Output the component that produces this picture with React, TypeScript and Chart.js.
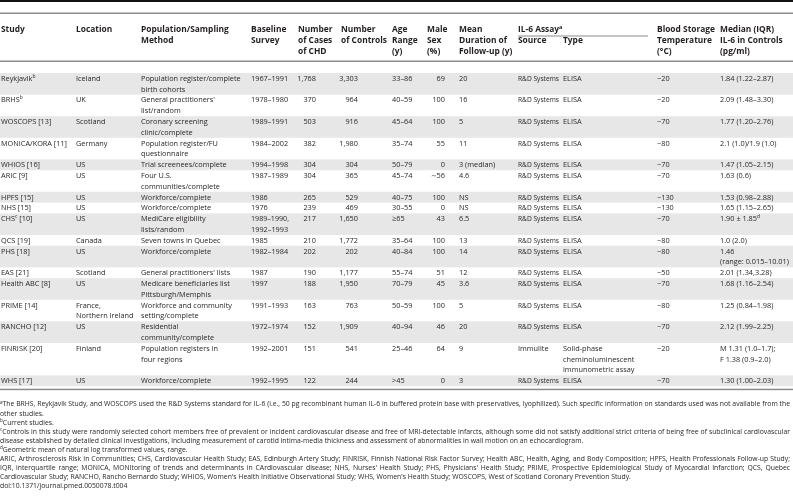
import React, { useEffect, useRef } from "react";
import { Chart, registerables } from "chart.js";

Chart.register(...registerables);

// ---------- DATA ----------
const studies = ["Reykjavik^b", "BRHS^b", "WOSCOPS [13]", "MONICA/KORA [11]", "WHIOS [16]", "ARIC [9]", "HPFS [15]", "NHS [15]", "CHS^c [10]", "QCS [19]", "PHS [18]", "EAS [21]", "Health ABC [8]", "PRIME [14]", "RANCHO [12]", "FINRISK [20]", "WHS [17]"];
const locations = ["Iceland", "UK", "Scotland", "Germany", "US", "US", "US", "US", "US", "Canada", "US", "Scotland", "US", "France,\nNorthern Ireland", "US", "Finland", "US"];
const populations = ["Population register/complete\nbirth cohorts", "General practitioners'\nlist/random", "Coronary screening\nclinic/complete", "Population register/FU\nquestionnaire", "Trial screenees/complete", "Four U.S.\ncommunities/complete", "Workforce/complete", "Workforce/complete", "MediCare eligibility\nlists/random", "Seven towns in Quebec", "Workforce/complete", "General practitioners' lists", "Medicare beneficiaries list\nPittsburgh/Memphis", "Workforce and community\nsetting/complete", "Residential\ncommunity/complete", "Population registers in\nfour regions", "Workforce/complete"];
const baselines = ["1967–1991", "1978–1980", "1989–1991", "1984–2002", "1994–1998", "1987–1989", "1986", "1976", "1989–1990,\n1992–1993", "1985", "1982–1984", "1987", "1997", "1991–1993", "1972–1974", "1992–2001", "1992–1995"];
const casesCHD = [1768, 370, 503, 382, 304, 304, 265, 239, 217, 210, 202, 190, 188, 163, 152, 151, 122];
const controls = [3303, 964, 916, 1980, 304, 365, 529, 469, 1650, 1772, 202, 1177, 1950, 763, 1909, 541, 244];
const ageRanges = ["33–86", "40–59", "45–64", "35–74", "50–79", "45–74", "40–75", "30–55", "≥65", "35–64", "40–84", "55–74", "70–79", "50–59", "40–94", "25–46", ">45"];
const maleSex = ["69", "100", "100", "55", "0", "∼56", "100", "0", "43", "100", "100", "51", "45", "100", "46", "64", "0"];
const followUps = ["20", "16", "5", "11", "3 (median)", "4.6", "NS", "NS", "6.5", "13", "14", "12", "3.6", "5", "20", "9", "3"];
const assaySources = ["R&D Systems", "R&D Systems", "R&D Systems", "R&D Systems", "R&D Systems", "R&D Systems", "R&D Systems", "R&D Systems", "R&D Systems", "R&D Systems", "R&D Systems", "R&D Systems", "R&D Systems", "R&D Systems", "R&D Systems", "Immulite", "R&D Systems"];
const assayTypes = ["ELISA", "ELISA", "ELISA", "ELISA", "ELISA", "ELISA", "ELISA", "ELISA", "ELISA", "ELISA", "ELISA", "ELISA", "ELISA", "ELISA", "ELISA", "Solid-phase\ncheminoluminescent\nimmunometric assay", "ELISA"];
const storageTemps = ["−20", "−20", "−70", "−80", "−70", "−70", "−130", "−130", "−70", "−80", "−80", "−50", "−70", "−80", "−70", "−20", "−70"];
const medians = ["1.84 (1.22–2.87)", "2.09 (1.48–3.30)", "1.77 (1.20–2.76)", "2.1 (1.0)/1.9 (1.0)", "1.47 (1.05–2.15)", "1.63 (0.6)", "1.53 (0.98–2.88)", "1.65 (1.15–2.65)", "1.90 ± 1.85^d", "1.0 (2.0)", "1.46\n(range: 0.015–10.01)", "2.01 (1.34,3.28)", "1.68 (1.16–2.54)", "1.25 (0.84–1.98)", "2.12 (1.99–2.25)", "M 1.31 (1.0–1.7);\nF 1.38 (0.9–2.0)", "1.30 (1.00–2.03)"];

const headerStudy = ["Study"];
const headerLocation = ["Location"];
const headerPopulation = ["Population/Sampling", "Method"];
const headerBaseline = ["Baseline", "Survey"];
const headerCases = ["Number", "of Cases", "of CHD"];
const headerControls = ["Number", "of Controls"];
const headerAge = ["Age", "Range", "(y)"];
const headerMale = ["Male", "Sex", "(%)"];
const headerFollow = ["Mean", "Duration of", "Follow-up (y)"];
const headerAssay = "IL-6 Assay^a";
const headerSource = ["", "Source"];
const headerType = ["", "Type"];
const headerStorage = ["Blood Storage", "Temperature", "(°C)"];
const headerMedian = ["Median (IQR)", "IL-6 in Controls", "(pg/ml)"];

const footnoteLines = [
  "^aThe BRHS, Reykjavik Study, and WOSCOPS used the R&D Systems standard for IL-6 (i.e., 50 pg recombinant human IL-6 in buffered protein base with preservatives, lyophilized). Such specific information on standards used was not available from the",
  "other studies.",
  "^bCurrent studies.",
  "^cControls in this study were randomly selected cohort members free of prevalent or incident cardiovascular disease and free of MRI-detectable infarcts, although some did not satisfy additional strict criteria of being free of subclinical cardiovascular",
  "disease established by detailed clinical investigations, including measurement of carotid intima-media thickness and assessment of abnormalities in wall motion on an echocardiogram.",
  "^dGeometric mean of natural log transformed values, range.",
  "ARIC, Arthrosclerosis Risk In Communities; CHS, Cardiovascular Health Study; EAS, Edinburgh Artery Study; FINRISK, Finnish National Risk Factor Survey; Health ABC, Health, Aging, and Body Composition; HPFS, Health Professionals Follow-up Study;",
  "IQR, interquartile range; MONICA, MONItoring of trends and determinants in CArdiovascular disease; NHS, Nurses' Health Study; PHS, Physicians' Health Study; PRIME, Prospective Epidemiological Study of Myocardial Infarction; QCS, Quebec",
  "Cardiovascular Study; RANCHO, Rancho Bernardo Study; WHIOS, Women's Health Initiative Observational Study; WHS, Women's Health Study; WOSCOPS, West of Scotland Coronary Prevention Study.",
  "doi:10.1371/journal.pmed.0050078.t004",
];
const footnoteJustified = [true, false, false, true, false, false, true, true, false, false];

// ---------- LAYOUT / STYLE ----------
const W = 793;
const H = 498;
const FONT = '"Open Sans", "Noto Sans", sans-serif';
const TEXT = "#231f20";
const RULE = "#8c8c8c";
const BAND = "#e7e7e7";

type Col = { x: number; align: "left" | "right"; header: string[]; cells: string[]; maxW: number };

const fmt = (n: number) => n.toLocaleString("en-US");

const columns: Col[] = [
  { x: 1, align: "left", header: headerStudy, cells: studies, maxW: 66 },
  { x: 76, align: "left", header: headerLocation, cells: locations, maxW: 63 },
  { x: 141, align: "left", header: headerPopulation, cells: populations, maxW: 106 },
  { x: 251, align: "left", header: headerBaseline, cells: baselines, maxW: 38 },
  { x: 316, align: "right", header: headerCases, cells: casesCHD.map(fmt), maxW: 30 },
  { x: 358, align: "right", header: headerControls, cells: controls.map(fmt), maxW: 30 },
  { x: 392, align: "left", header: headerAge, cells: ageRanges, maxW: 30 },
  { x: 445, align: "right", header: headerMale, cells: maleSex, maxW: 20 },
  { x: 459, align: "left", header: headerFollow, cells: followUps, maxW: 56 },
  { x: 518, align: "left", header: headerSource, cells: assaySources, maxW: 41 },
  { x: 563, align: "left", header: headerType, cells: assayTypes, maxW: 90 },
  { x: 657, align: "left", header: headerStorage, cells: storageTemps, maxW: 60 },
  { x: 720, align: "left", header: headerMedian, cells: medians, maxW: 73 },
];
const headerLeft: Record<number, number> = { 4: 298, 5: 341, 7: 427 };

type Seg = { t: string; sup: boolean };
function parse(text: string): Seg[] {
  const out: Seg[] = [];
  const parts = text.split(/(\^.)/);
  for (const p of parts) {
    if (!p) continue;
    if (p.length === 2 && p[0] === "^") out.push({ t: p[1], sup: true });
    else out.push({ t: p, sup: false });
  }
  return out;
}
function font(size: number, bold: boolean) {
  return `${bold ? "bold " : ""}${size}px ${FONT}`;
}
function measureRich(ctx: CanvasRenderingContext2D, text: string, size: number, bold: boolean) {
  let w = 0;
  for (const s of parse(text)) {
    ctx.font = font(s.sup ? size * 0.68 : size, bold);
    w += ctx.measureText(s.t).width;
  }
  return w;
}
function drawRich(ctx: CanvasRenderingContext2D, text: string, x: number, y: number, size: number, bold: boolean, align: "left" | "right" = "left", maxW = Infinity) {
  const total = measureRich(ctx, text, size, bold);
  const sx = total > maxW ? maxW / total : 1;
  const w = total * sx;
  const left = align === "right" ? x - w : x;
  ctx.save();
  ctx.translate(left, 0);
  ctx.scale(sx, 1);
  ctx.textAlign = "left";
  ctx.textBaseline = "middle";
  let cx = 0;
  for (const s of parse(text)) {
    const sz = s.sup ? size * 0.68 : size;
    ctx.font = font(sz, bold);
    ctx.fillText(s.t, cx, s.sup ? y - size * 0.32 : y);
    cx += ctx.measureText(s.t).width;
  }
  ctx.restore();
}
function drawJustified(ctx: CanvasRenderingContext2D, text: string, x: number, y: number, width: number, size: number) {
  const words = text.split(" ");
  const widths = words.map((w) => measureRich(ctx, w, size, false));
  const sum = widths.reduce((a, b) => a + b, 0);
  ctx.font = font(size, false);
  const natSpace = ctx.measureText(" ").width;
  let gap = (width - sum) / (words.length - 1);
  let scale = 1;
  if (gap < natSpace * 0.6) {
    gap = natSpace * 0.6;
    scale = width / (sum + gap * (words.length - 1));
  }
  ctx.save();
  ctx.translate(x, 0);
  ctx.scale(scale, 1);
  let cx = 0;
  words.forEach((w, i) => {
    drawRich(ctx, w, cx, y, size, false);
    cx += widths[i] + gap;
  });
  ctx.restore();
}
function fitSize(ctx: CanvasRenderingContext2D, text: string, target: number, bold: boolean) {
  ctx.font = font(10, bold);
  return (10 * target) / ctx.measureText(text).width;
}

const rowLines = studies.map((_, r) => Math.max(...columns.map((c) => c.cells[r].split("\n").length)));

const tablePlugin = {
  id: "tableDraw",
  beforeDraw(chart: any) {
    const { ctx } = chart;
    ctx.save();
    ctx.fillStyle = "#ffffff";
    ctx.fillRect(0, 0, chart.width, chart.height);
    ctx.restore();
  },
  afterDraw(chart: any) {
    const ctx: CanvasRenderingContext2D = chart.ctx;
    const xs = chart.scales.x;
    const ys = chart.scales.y;
    const X = (v: number) => xs.getPixelForValue(v);
    const Y = (v: number) => ys.getPixelForValue(v);

    const bodySize = fitSize(ctx, "Population register/complete", 100, false);
    const headSize = fitSize(ctx, "Population/Sampling", 88, true);
    const footSize = fitSize(ctx, footnoteLines[4], 585, false);

    ctx.save();
    // rules
    ctx.fillStyle = "#111";
    ctx.fillRect(X(0), Y(0), X(W) - X(0), 2);
    ctx.fillStyle = RULE;
    ctx.fillRect(X(0), Y(12.5), X(W) - X(0), 1.5);
    ctx.fillRect(X(0), Y(60.5), X(W) - X(0), 1.5);
    ctx.fillRect(X(518), Y(35.5), X(648) - X(518), 1);

    // body bands
    const bodyTop = 73;
    const LH = 10.8;
    let line = 0;
    rowLines.forEach((n, r) => {
      if (r % 2 === 0) {
        ctx.fillStyle = BAND;
        ctx.fillRect(X(0), Y(bodyTop + line * LH), X(W) - X(0), n * LH);
      }
      line += n;
    });
    const bodyEnd = bodyTop + line * LH;
    ctx.fillStyle = RULE;
    ctx.fillRect(X(0), Y(bodyEnd + 2.5), X(W) - X(0), 1.5);

    // header text
    ctx.fillStyle = TEXT;
    const headY = [30, 41, 52];
    columns.forEach((c, ci) => {
      const hx = headerLeft[ci] ?? c.x;
      c.header.forEach((h, i) => {
        if (h) drawRich(ctx, h, X(hx), Y(headY[i]), headSize, true);
      });
    });
    drawRich(ctx, headerAssay, X(518), Y(headY[0]), headSize, true);

    // body text
    line = 0;
    rowLines.forEach((n, r) => {
      columns.forEach((c) => {
        c.cells[r].split("\n").forEach((t, i) => {
          drawRich(ctx, t, X(c.x), Y(bodyTop + (line + i) * LH + LH / 2 + 0.3), bodySize, false, c.align, c.maxW);
        });
      });
      line += n;
    });

    // footnotes
    const footTop = 404.5;
    const FLH = 9.1;
    footnoteLines.forEach((t, i) => {
      const y = Y(footTop + i * FLH);
      if (footnoteJustified[i]) drawJustified(ctx, t, X(0), y, X(790) - X(0), footSize);
      else drawRich(ctx, t, X(0), y, footSize, false);
    });
    ctx.restore();
  },
};

export default function App() {
  const ref = useRef<HTMLCanvasElement | null>(null);
  useEffect(() => {
    document.body.style.margin = "0";
    const canvas = ref.current;
    if (!canvas) return;
    const chart = new Chart(canvas, {
      type: "scatter",
      data: { datasets: [{ data: [], pointRadius: 0 }] },
      options: {
        animation: false,
        responsive: false,
        devicePixelRatio: 1,
        layout: { padding: 0 },
        plugins: { legend: { display: false }, tooltip: { enabled: false }, title: { display: false } },
        scales: {
          x: { type: "linear", min: 0, max: W, display: false },
          y: { type: "linear", min: 0, max: H, reverse: true, display: false },
        },
      },
      plugins: [tablePlugin],
    });
    return () => chart.destroy();
  }, []);
  return (
    <div style={{ width: W, height: H, background: "#fff" }}>
      <canvas ref={ref} width={W} height={H} style={{ display: "block" }} />
    </div>
  );
}
